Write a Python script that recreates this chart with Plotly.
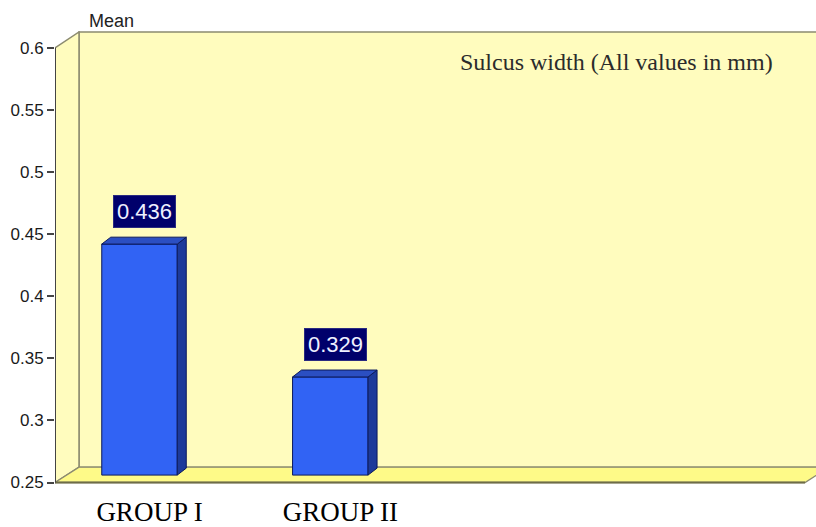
import plotly.graph_objects as go

# ---- data ----
categories = ["GROUP I", "GROUP II"]
means = [0.436, 0.329]
y_ticks = [0.25, 0.3, 0.35, 0.4, 0.45, 0.5, 0.55, 0.6]
y_tick_labels = ["0.25", "0.3", "0.35", "0.4", "0.45", "0.5", "0.55", "0.6"]

# ---- page geometry (pixels) ----
W, H = 816, 527
PLOT_L, PLOT_R = 55, 816
PLOT_T, PLOT_B = 31, 489
FRONT_T, FRONT_B = 48, 486.5          # rows of the 0.6 / 0.25 ticks on the front plane
Y_LO, Y_HI = 0.25, 0.6
SLOT_PX, FIRST_PX = 190.8, 139.5      # spacing of the categories, centre of the first bar
BAR_W_PX = 75.5
WALL_DX, WALL_DY = 24, 15.5           # depth of the box (back wall offset)
BAR_DX, BAR_DY = 9, 7                 # depth of each bar
BAR_LIFT = 7.5                        # bars stand half way back on the floor
FLOOR_END_PX = 805

ky = (FRONT_B - FRONT_T) / (Y_HI - Y_LO)
kx = SLOT_PX
y_range = [Y_LO - (PLOT_B - FRONT_B) / ky, Y_HI + (FRONT_T - PLOT_T) / ky]
x0 = -(FIRST_PX - PLOT_L) / kx
x_range = [x0, x0 + (PLOT_R - PLOT_L) / kx]


def dx(px):
    return px / kx


def dy(px):
    return px / ky


def poly(points):
    return "M " + " L ".join(f"{x:.5f},{y:.5f}" for x, y in points) + " Z"


def paper_x(px):
    return (px - PLOT_L) / (PLOT_R - PLOT_L)


def paper_y(py):
    return (PLOT_B - py) / (PLOT_B - PLOT_T)


WALL = "#fffcbe"
FLOOR = "#fefa88"
EDGE = "#8c8b70"

shapes = []
# back wall
shapes.append(dict(type="path", xref="x", yref="y", layer="below",
                   path=poly([(x0 + dx(WALL_DX), Y_LO + dy(WALL_DY)),
                              (x_range[1] + 1, Y_LO + dy(WALL_DY)),
                              (x_range[1] + 1, Y_HI + dy(16)),
                              (x0 + dx(WALL_DX), Y_HI + dy(16))]),
                   fillcolor=WALL, line=dict(color=EDGE, width=1.5)))
# left side wall
shapes.append(dict(type="path", xref="x", yref="y", layer="below",
                   path=poly([(x0, Y_LO), (x0, Y_HI),
                              (x0 + dx(WALL_DX), Y_HI + dy(16)),
                              (x0 + dx(WALL_DX), Y_LO + dy(WALL_DY))]),
                   fillcolor=WALL, line=dict(color=EDGE, width=1.5)))
# floor
x_floor_end = x0 + dx(FLOOR_END_PX - PLOT_L)
shapes.append(dict(type="path", xref="x", yref="y", layer="below",
                   path=poly([(x0, Y_LO), (x_floor_end, Y_LO),
                              (x_floor_end + dx(WALL_DX), Y_LO + dy(WALL_DY)),
                              (x0 + dx(WALL_DX), Y_LO + dy(WALL_DY))]),
                   fillcolor=FLOOR, line=dict(color=EDGE, width=1.3)))
# front edge of the floor
shapes.append(dict(type="line", xref="x", yref="y", layer="below",
                   x0=x0, x1=x_floor_end, y0=Y_LO, y1=Y_LO,
                   line=dict(color="#6e6c48", width=2)))
# value axis line
shapes.append(dict(type="line", xref="x", yref="y", layer="below",
                   x0=x0, x1=x0, y0=Y_LO, y1=Y_HI,
                   line=dict(color="#444444", width=2)))

# bars: front faces through the bar trace, side and top faces as shapes
bar_w = BAR_W_PX / kx
lift = dy(BAR_LIFT)
xs = list(range(len(categories)))
bases = [Y_LO + lift for _ in means]
lengths = [m - Y_LO for m in means]

annotations = []
for i, m in enumerate(means):
    xl, xr = i - bar_w / 2, i + bar_w / 2
    yb, yt = Y_LO + lift, m + lift
    shapes.append(dict(type="path", xref="x", yref="y", layer="above",
                       path=poly([(xr, yb), (xr, yt),
                                  (xr + dx(BAR_DX), yt + dy(BAR_DY)),
                                  (xr + dx(BAR_DX), yb + dy(BAR_DY))]),
                       fillcolor="#1d3a9a", line=dict(color="#0c1a5c", width=1)))
    shapes.append(dict(type="path", xref="x", yref="y", layer="above",
                       path=poly([(xl, yt), (xr, yt),
                                  (xr + dx(BAR_DX), yt + dy(BAR_DY)),
                                  (xl + dx(BAR_DX), yt + dy(BAR_DY))]),
                       fillcolor="#2b4fc2", line=dict(color="#0c1a5c", width=1)))
    annotations.append(dict(x=i, y=yt, xref="x", yref="y", text=f"{m:.3f}",
                            showarrow=False, xanchor="center", yanchor="bottom",
                            xshift=5, yshift=16,
                            font=dict(family="Liberation Sans, Arial", size=22,
                                      color="#eef0ff"),
                            bgcolor="#00006b", bordercolor="#2a2a80",
                            borderwidth=1, borderpad=3))

annotations.append(dict(x=paper_x(111), y=paper_y(21), xref="paper", yref="paper",
                        text="Mean", showarrow=False, xanchor="center",
                        yanchor="middle",
                        font=dict(family="Liberation Sans, Arial", size=18,
                                  color="#222222")))
annotations.append(dict(x=paper_x(458), y=paper_y(62), xref="paper", yref="paper",
                        text="Sulcus width (All values in mm)", showarrow=False,
                        xanchor="left", yanchor="middle",
                        font=dict(family="Liberation Serif, Times New Roman",
                                  size=24, color="#2b2b2b")))

fig = go.Figure()
fig.add_trace(go.Bar(x=xs, y=lengths, base=bases, width=bar_w,
                     marker=dict(color="#3163f4",
                                 line=dict(color="#0c1a5c", width=1)),
                     hoverinfo="skip", showlegend=False))

fig.update_layout(
    width=W, height=H,
    margin=dict(l=PLOT_L, r=W - PLOT_R, t=PLOT_T, b=H - PLOT_B, pad=0),
    paper_bgcolor="white", plot_bgcolor="white",
    shapes=shapes, annotations=annotations,
    xaxis=dict(range=x_range, tickvals=xs, ticktext=categories,
               showgrid=False, zeroline=False, showline=False, ticks="",
               ticklabelshift=10, ticklabelstandoff=8,
               tickfont=dict(family="Liberation Serif, Times New Roman",
                             size=27, color="#000000"),
               fixedrange=True),
    yaxis=dict(range=y_range, tickvals=y_ticks, ticktext=y_tick_labels,
               showgrid=False, zeroline=False, showline=False,
               ticks="outside", ticklen=7, tickwidth=1.5, tickcolor="#444444",
               tickfont=dict(family="Liberation Sans, Arial", size=17,
                             color="#1a1a1a"),
               fixedrange=True),
)

fig.write_html("out.html")
